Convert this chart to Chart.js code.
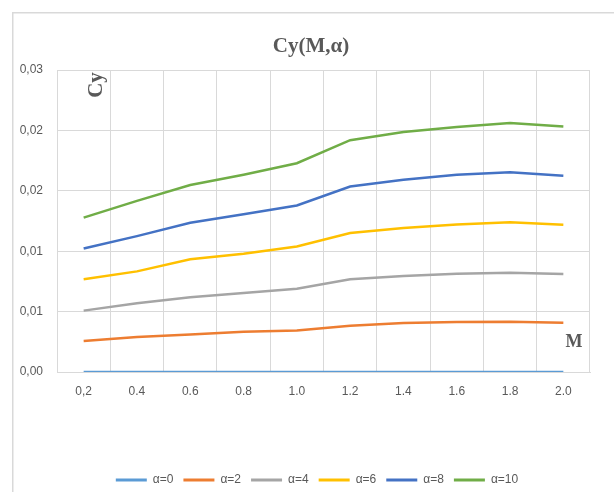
<!DOCTYPE html>
<html>
<head>
<meta charset="utf-8">
<script src="https://cdn.jsdelivr.net/npm/chart.js@4/dist/chart.umd.min.js"></script>
<style>
  html, body { margin: 0; padding: 0; background: #fff; }
  #wrap { width: 614px; height: 492px; position: relative; }
</style>
</head>
<body>
<div id="wrap"><canvas id="cyChart" width="614" height="492"></canvas></div>
<script>
const machLabels = ['0,2', '0.4', '0.6', '0.8', '1.0', '1.2', '1.4', '1.6', '1.8', '2.0'];
const yTickLabels = ['0,00', '0,01', '0,01', '0,02', '0,02', '0,03'];

const alpha0 = [0, 0, 0, 0, 0, 0, 0, 0, 0, 0];
const alpha2 = [0.00256, 0.00289, 0.00311, 0.00333, 0.00344, 0.00383, 0.00406, 0.00414, 0.00417, 0.00408];
const alpha4 = [0.00508, 0.00569, 0.00619, 0.00653, 0.00689, 0.00767, 0.00794, 0.00814, 0.00822, 0.00811];
const alpha6 = [0.00767, 0.00833, 0.00933, 0.00978, 0.01039, 0.01150, 0.01192, 0.01222, 0.01239, 0.01219];
const alpha8 = [0.01022, 0.01125, 0.01236, 0.01306, 0.01378, 0.01536, 0.01592, 0.01633, 0.01653, 0.01625];
const alpha10 = [0.01278, 0.01417, 0.01548, 0.01633, 0.01728, 0.01919, 0.01986, 0.02028, 0.02061, 0.02033];

const textColor = '#595959';
const gridColor = '#d9d9d9';

function line(label, data, color) {
    return {
        label: label,
        data: data,
        borderColor: color,
        backgroundColor: color,
        borderWidth: 2.5,
        pointRadius: 0,
        tension: 0,
        fill: false
    };
}

// frame, title and axis captions
const decorations = {
    id: 'decorations',
    afterLayout(chart) {
        // legend sits a little right of and below the default spot
        const lg = chart.legend;
        lg.left += 22;
        lg.right += 22;
        lg.top += 4;
        lg.bottom += 4;
    },
    beforeDraw(chart) {
        const ctx = chart.ctx;
        ctx.save();
        ctx.strokeStyle = '#d9d9d9';
        ctx.lineWidth = 1.5;
        ctx.beginPath();
        ctx.moveTo(12.75, 492);
        ctx.lineTo(12.75, 12.75);
        ctx.lineTo(614, 12.75);
        ctx.stroke();
        ctx.restore();
    },
    afterDraw(chart) {
        const ctx = chart.ctx;
        ctx.save();
        ctx.fillStyle = textColor;
        ctx.textAlign = 'center';
        ctx.textBaseline = 'middle';
        ctx.font = 'bold 21px "Liberation Serif"';
        ctx.fillText('Cy(M,α)', 311, 47);
        ctx.font = 'bold 18px "Liberation Serif"';
        ctx.fillText('M', 574, 342);
        ctx.translate(97, 85);
        ctx.rotate(-Math.PI / 2);
        ctx.font = 'bold 21px "Liberation Serif"';
        ctx.fillText('Cy', 0, 0);
        ctx.restore();
    }
};

const ctx = document.getElementById('cyChart').getContext('2d');
new Chart(ctx, {
    type: 'line',
    data: {
        labels: machLabels,
        datasets: [
            line('α=0', alpha0, '#5B9BD5'),
            line('α=2', alpha2, '#ED7D31'),
            line('α=4', alpha4, '#A5A5A5'),
            line('α=6', alpha6, '#FFC000'),
            line('α=8', alpha8, '#4472C4'),
            line('α=10', alpha10, '#70AD47')
        ]
    },
    options: {
        responsive: false,
        animation: false,
        layout: { padding: { top: 70, right: 24, left: 0, bottom: 0 } },
        plugins: {
            title: { display: false },
            tooltip: { enabled: false },
            legend: {
                position: 'bottom',
                labels: {
                    boxWidth: 31,
                    boxHeight: 3,
                    padding: 10,
                    color: textColor,
                    font: { family: '"Liberation Sans"', size: 12 },
                    generateLabels(chart) {
                        return Chart.defaults.plugins.legend.labels.generateLabels(chart).map(item => {
                            item.lineWidth = 0;
                            return item;
                        });
                    }
                }
            }
        },
        scales: {
            x: {
                offset: true,
                grid: { offset: true, color: gridColor, drawTicks: false },
                border: { color: gridColor },
                ticks: {
                    color: textColor,
                    padding: 12,
                    maxRotation: 0,
                    font: { family: '"Liberation Sans"', size: 12 }
                },
                afterFit(scale) { scale.height = 88; }
            },
            y: {
                min: 0,
                max: 0.025,
                grid: { color: gridColor, drawTicks: false },
                border: { display: false },
                ticks: {
                    stepSize: 0.005,
                    color: textColor,
                    padding: 14,
                    font: { family: '"Liberation Sans"', size: 12 },
                    callback: function(value, index) {
                        return yTickLabels[index];
                    }
                },
                afterFit(scale) { scale.width = 57; }
            }
        }
    },
    plugins: [decorations]
});
</script>
</body>
</html>
